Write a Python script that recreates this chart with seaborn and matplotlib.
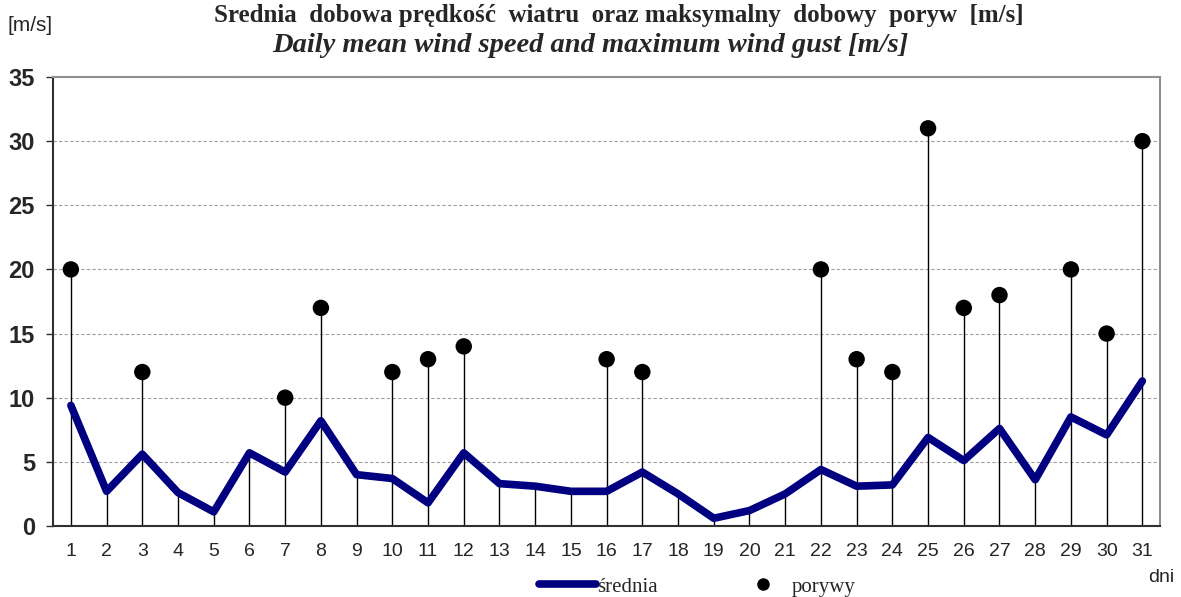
import matplotlib
matplotlib.use("Agg")
import matplotlib.pyplot as plt
import numpy as np
import pandas as pd
import seaborn as sns
from matplotlib.lines import Line2D

days = list(range(1, 32))
srednia = [9.4, 2.7, 5.6, 2.6, 1.1, 5.7, 4.2, 8.2, 4.0, 3.7,
           1.8, 5.7, 3.3, 3.1, 2.7, 2.7, 4.2, 2.5, 0.6, 1.2,
           2.5, 4.4, 3.1, 3.2, 6.9, 5.1, 7.6, 3.6, 8.5, 7.1, 11.3]
porywy = [20, None, 12, None, None, None, 10, 17, None, 12,
          13, 14, None, None, None, 13, 12, None, None, None,
          None, 20, 13, 12, 31, 17, 18, None, 20, 15, 30]

df = pd.DataFrame({"dzien": days, "srednia": srednia,
                   "porywy": [np.nan if p is None else p for p in porywy]})
# linie pionowe do wyzszej z wartosci
df["gora"] = df[["srednia", "porywy"]].max(axis=1)

sns.set_style("white")
plt.rcParams['font.family'] = ['Liberation Sans', 'DejaVu Sans']

fig = plt.figure(figsize=(11.81, 5.97), dpi=100)
ax = fig.add_axes([0.0449, 0.119, 0.9375, 0.752])

ax.vlines(df["dzien"], 0, df["gora"], color="black", linewidth=1, zorder=2)
sns.lineplot(data=df, x="dzien", y="srednia", color="#000080", linewidth=5.5,
             ax=ax, zorder=3)
sns.scatterplot(data=df.dropna(), x="dzien", y="porywy", color="black", s=140,
                edgecolor="none", ax=ax, zorder=4)

ax.set_xlim(0.5, 31.5)
ax.set_ylim(0, 35)
ax.set_yticks(range(0, 36, 5))
ax.set_yticklabels([str(v) for v in range(0, 36, 5)], fontsize=17, fontweight="bold")
ax.set_xticks(days)
ax.set_xticklabels([str(d) for d in days], fontsize=14)
ax.set_xticks(np.arange(0.5, 32, 1), minor=True)
ax.tick_params(axis="x", which="major", length=0, pad=12)
ax.tick_params(axis="x", which="minor", length=5, width=1, color="#303030", direction="out")
ax.tick_params(axis="y", length=5, width=1, color="#303030", direction="out", left=True, pad=8)
ax.set_xlabel("")
ax.set_ylabel("")

ax.yaxis.grid(True, linestyle=(0, (3, 2)), color="#a0a0a0", linewidth=0.8)
ax.set_axisbelow(True)
for s in ["top", "right"]:
    ax.spines[s].set_color("#909090")
    ax.spines[s].set_linewidth(1.5)
for s in ["left", "bottom"]:
    ax.spines[s].set_color("#303030")
    ax.spines[s].set_linewidth(1.5)

fig.text(0.524, 0.963, "Srednia  dobowa prędkość  wiatru  oraz maksymalny  dobowy  poryw  [m/s]",
         ha="center", va="baseline", fontsize=18, fontweight="bold", family="Liberation Serif")
fig.text(0.5, 0.913, "Daily mean wind speed and maximum wind gust [m/s]",
         ha="center", va="baseline", fontsize=20.5, fontweight="bold", style="italic",
         family="Liberation Serif")
fig.text(0.006, 0.958, "[m/s]", ha="left", va="center", fontsize=15)
fig.text(0.972, 0.032, "dni", ha="left", va="center", fontsize=14)

handles = [Line2D([], [], color="#000080", linewidth=5.5),
           Line2D([], [], color="black", marker="o", linestyle="none", markersize=8)]
fig.legend(handles, ["średnia", "porywy"], loc="center", bbox_to_anchor=(0.5906, 0.017),
           ncol=2, frameon=False, handlelength=2.7, columnspacing=3.7,
           prop={"family": "Liberation Serif", "size": 15}, handletextpad=0.05)

fig.savefig("out.png", dpi=100)
